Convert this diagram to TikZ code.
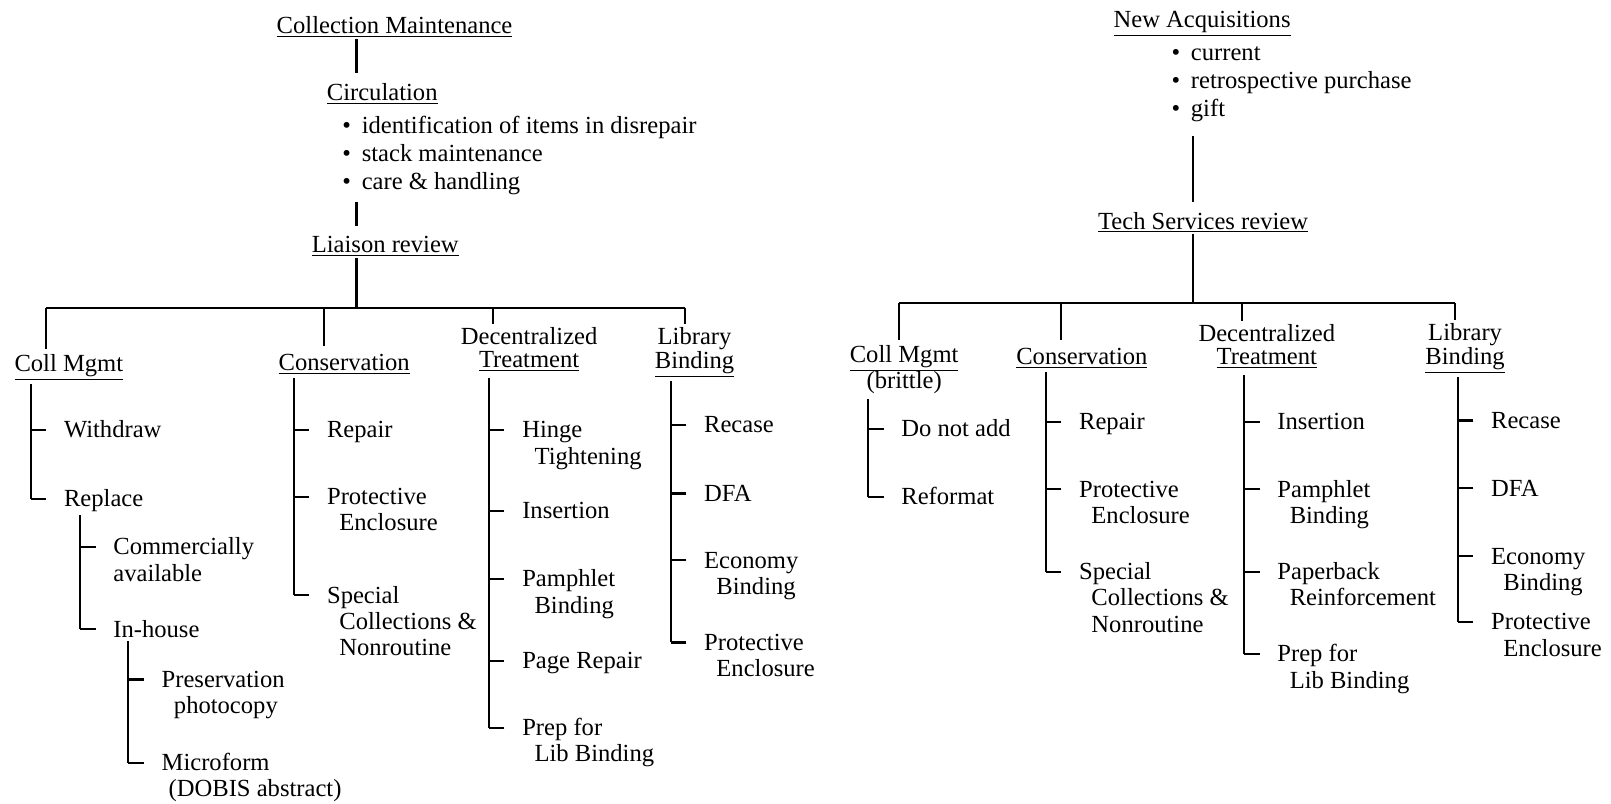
\documentclass[tikz,border=0pt]{standalone}
\usepackage{fontspec}
\setmainfont{Liberation Serif}
\usetikzlibrary{positioning,calc}

\newcommand{\hd}[1]{\underline{#1}}
\newcommand{\ind}{\hspace*{7pt}}
\newcommand{\bul}{\makebox[11pt][l]{\textbullet}}
% rows hang from the first baseline
\newcommand{\rows}[1]{\begin{tabular}[t]{@{}l@{}}#1\end{tabular}}
\newcommand{\crows}[1]{\begin{tabular}[t]{@{}c@{}}#1\end{tabular}}
% spine with one tick per child
\newcommand{\twigs}[2]{%
  \foreach \ch in {#2}
    \draw[link] ([xshift=-0.35cm,yshift=4.5pt]\ch.base west) -- ++(-15,0) coordinate (tip);
  \draw[link] (tip) -- ($(tip |- #1.south)+(0,3)$);
}

\begin{document}
\begin{tikzpicture}[
        x=0.02055cm, y=-0.02055cm,
        head/.style={inner sep=0pt, anchor=base, font=\fontsize{14}{13.5}\selectfont},
        item/.style={inner sep=0pt, anchor=base west, font=\fontsize{14}{15}\selectfont},
        list/.style={item, font=\fontsize{14}{16}\selectfont},
        link/.style={line width=1.2pt}
    ]
        \useasboundingbox (0,0) rectangle (1568,782);

        % left tree
        \node[head] (lcoll) at (384,33) {\hd{Collection Maintenance}};
        \node[head] (lcirc) at (372,98) {\hd{Circulation}};
        \node[list] (llist) at (333,130) {\rows{\bul identification of items in disrepair\\\bul stack maintenance\\\bul care \& handling}};
        \node[head] (lliai) at (375,246) {\hd{Liaison review}};

        \node[head] (lcm) at (67,362) {\hd{Coll Mgmt}};
        \node[head] (lcons) at (335,361) {\hd{Conservation}};
        \node[head] (ldec) at (515,335) {\crows{Decentralized\\\hd{Treatment}}};
        \node[head] (llib) at (676,335) {\crows{Library\\\hd{Binding}}};

        \node[item] (lwd) at (62,426) {Withdraw};
        \node[item] (lrp) at (62,493) {Replace};
        \node[item] (lcom) at (110,540) {\rows{Commercially\\available}};
        \node[item] (linh) at (110,620) {In-house};
        \node[item] (lpres) at (157,669) {\rows{Preservation\\\ind photocopy}};
        \node[item] (lmic) at (157,750) {\rows{Microform\\\hspace*{4pt}(DOBIS abstract)}};

        \node[item] (lrep) at (318,426) {Repair};
        \node[item] (lpro) at (318,491) {\rows{Protective\\\ind Enclosure}};
        \node[item] (lspc) at (318,587) {\rows{Special\\\ind Collections \&\\\ind Nonroutine}};

        \node[item] (lhin) at (508,426) {\rows{Hinge\\\ind Tightening}};
        \node[item] (lins) at (508,505) {Insertion};
        \node[item] (lpam) at (508,571) {\rows{Pamphlet\\\ind Binding}};
        \node[item] (lpag) at (508,651) {Page Repair};
        \node[item] (lprep) at (508,716) {\rows{Prep for\\\ind Lib Binding}};

        \node[item] (lrec) at (685,421) {Recase};
        \node[item] (ldfa) at (685,488) {DFA};
        \node[item] (leco) at (685,553) {\rows{Economy\\\ind Binding}};
        \node[item] (lpe) at (685,633) {\rows{Protective\\\ind Enclosure}};

        \coordinate (ltrunk) at (347,300);
        \coordinate (lb1) at (45,300);
        \coordinate (lb2) at (315,300);
        \coordinate (lb3) at (480,300);
        \coordinate (lb4) at (667,300);

        \draw[link] ($(ltrunk |- lcoll.south)+(0,1)$) -- ($(ltrunk |- lcirc.north)+(0,-10)$);
        \draw[link] ($(ltrunk |- llist.south)+(0,3)$) -- ($(ltrunk |- lliai.north)+(0,-10)$);
        \draw[link] ($(ltrunk |- lliai.south)+(0,1)$) -- (ltrunk);
        \draw[link] (lb1) -- (lb4);
        \draw[link] (lb1) -- ($(lb1 |- lcm.north)+(0,-5)$);
        \draw[link] (lb2) -- ($(lb2 |- lcons.north)+(0,-8)$);
        \draw[link] (lb3) -- ($(lb3 |- ldec.north)+(0,-3)$);
        \draw[link] (lb4) -- ($(lb4 |- llib.north)+(0,-3)$);

        \twigs{lcm}{lwd,lrp}
        \twigs{lrp}{lcom,linh}
        \twigs{linh}{lpres,lmic}
        \twigs{lcons}{lrep,lpro,lspc}
        \twigs{ldec}{lhin,lins,lpam,lpag,lprep}
        \twigs{llib}{lrec,ldfa,leco,lpe}

        % right tree
        \node[head] (rnew) at (1170,27) {\hd{New Acquisitions}};
        \node[list] (rlist) at (1140,59) {\rows{\bul current\\\bul retrospective purchase\\\bul gift}};
        \node[head] (rtech) at (1171,223) {\hd{Tech Services review}};

        \node[head] (rcm) at (880,353) {\crows{\hd{Coll Mgmt}\\(brittle)}};
        \node[head] (rcons) at (1053,355) {\hd{Conservation}};
        \node[head] (rdec) at (1233,332) {\crows{Decentralized\\\hd{Treatment}}};
        \node[head] (rlib) at (1426,331) {\crows{Library\\\hd{Binding}}};

        \node[item] (rdna) at (877,425) {Do not add};
        \node[item] (rref) at (877,491) {Reformat};

        \node[item] (rrep) at (1050,418) {Repair};
        \node[item] (rpro) at (1050,484) {\rows{Protective\\\ind Enclosure}};
        \node[item] (rspc) at (1050,564) {\rows{Special\\\ind Collections \&\\\ind Nonroutine}};

        \node[item] (rins) at (1243,418) {Insertion};
        \node[item] (rpam) at (1243,484) {\rows{Pamphlet\\\ind Binding}};
        \node[item] (rpap) at (1243,564) {\rows{Paperback\\\ind Reinforcement}};
        \node[item] (rprep) at (1243,644) {\rows{Prep for\\\ind Lib Binding}};

        \node[item] (rrec) at (1451,417) {Recase};
        \node[item] (rdfa) at (1451,483) {DFA};
        \node[item] (reco) at (1451,549) {\rows{Economy\\\ind Binding}};
        \node[item] (rpe) at (1451,613) {\rows{Protective\\\ind Enclosure}};

        \coordinate (rtrunk) at (1161,295);
        \coordinate (rb1) at (875,295);
        \coordinate (rb2) at (1033,295);
        \coordinate (rb3) at (1209,295);
        \coordinate (rb4) at (1416,295);

        \draw[link] ($(rtrunk |- rlist.south)+(0,10)$) -- ($(rtrunk |- rtech.north)+(0,-9)$);
        \draw[link] ($(rtrunk |- rtech.south)+(0,1)$) -- (rtrunk);
        \draw[link] (rb1) -- (rb4);
        \draw[link] (rb1) -- ($(rb1 |- rcm.north)+(0,-5)$);
        \draw[link] (rb2) -- ($(rb2 |- rcons.north)+(0,-8)$);
        \draw[link] (rb3) -- ($(rb3 |- rdec.north)+(0,-3)$);
        \draw[link] (rb4) -- ($(rb4 |- rlib.north)+(0,-3)$);

        \twigs{rcm}{rdna,rref}
        \twigs{rcons}{rrep,rpro,rspc}
        \twigs{rdec}{rins,rpam,rpap,rprep}
        \twigs{rlib}{rrec,rdfa,reco,rpe}
    \end{tikzpicture}
\end{document}
